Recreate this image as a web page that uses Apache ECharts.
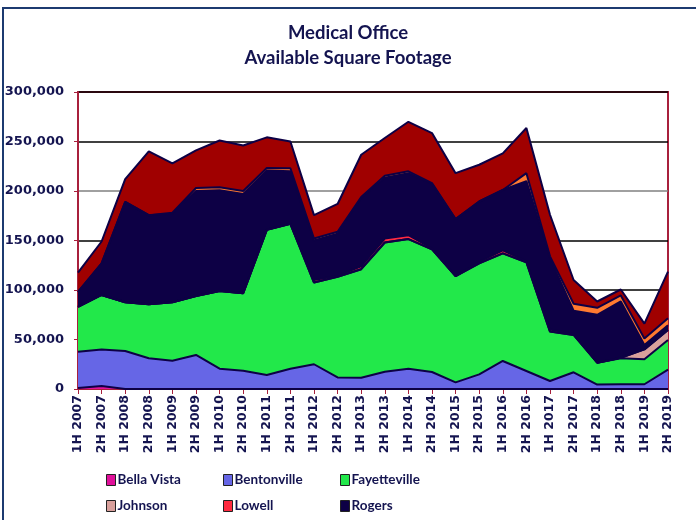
<!DOCTYPE html>
<html>
<head>
	<meta charset="utf-8">
	<title>Medical Office</title>
	<script src="https://cdnjs.cloudflare.com/ajax/libs/echarts/6.0.0/echarts.min.js"></script>
</head>
<body style="margin:0">
	<div id="main" style="width: 696px; height:520px"></div>
	<script type="text/javascript">
		var categories = ["1H 2007","2H 2007","1H 2008","2H 2008","1H 2009","2H 2009","1H 2010","2H 2010","1H 2011","2H 2011","1H 2012","2H 2012","1H 2013","2H 2013","1H 2014","2H 2014","1H 2015","2H 2015","1H 2016","2H 2016","1H 2017","2H 2017","1H 2018","2H 2018","1H 2019","2H 2019"];
		var bellaVista   = [1000,3000,0,0,0,0,0,0,0,0,0,0,0,0,0,0,0,0,0,0,0,0,0,0,0,0];
		var bentonville  = [36700,37000,38400,31000,28600,34400,20500,18500,14200,20500,25000,11700,11400,17500,20500,17200,6700,14800,28300,18200,8100,16900,4500,4700,4800,19500];
		var fayetteville = [45300,55000,49200,54600,59000,59600,78500,78200,146600,146300,82500,101700,109600,130500,130900,123800,107300,112200,108700,109800,49900,37700,22100,26300,25200,30000];
		var johnson      = [0,0,0,0,0,0,0,0,0,0,0,0,0,0,0,0,0,0,0,0,0,0,0,500,10000,10000];
		var lowell       = [0,0,0,0,0,0,0,0,0,0,2500,1000,3000,4000,4000,1000,0,1500,3000,1000,2000,1000,0,0,0,0];
		var rogers       = [15000,32000,101400,90000,89400,106000,101700,100300,59900,53200,40000,42500,69000,61500,62500,65000,57600,60900,61000,81000,72000,23500,48400,57000,4500,5000];
		var siloam       = [0,0,0,0,1000,3000,3000,3000,2500,3000,2000,2000,1000,2000,2000,1000,0,0,0,8000,2000,7000,7000,6000,6500,7000];
		var springdale   = [19600,22000,23000,64400,50000,38000,47300,46000,31000,27000,23600,28000,42600,38000,50000,50500,46400,37100,37000,45600,42000,24000,6400,6000,15000,47000];
		var yTicks = [0,50000,100000,150000,200000,250000,300000];

		var navy = '#0d0045';
		var textNavy = '#141450';
		var myChart = echarts.init(document.getElementById('main'));

		function area(name, data, color){
			return {
				name: name,
				type: 'line',
				stack: 'total',
				z: 5,
				data: data,
				symbol: 'none',
				color: color,
				lineStyle: { color: navy, width: 2 },
				areaStyle: { color: color, opacity: 1 }
			};
		}

		// one legend per entry so the columns line up like the original
		function legendItem(left, top, name){
			return {
				left: left, top: top, padding: 0,
				itemWidth: 9, itemHeight: 11, itemGap: 0,
				icon: 'rect',
				itemStyle: { borderColor: '#222', borderWidth: 1 },
				textStyle: { fontFamily: 'Lato', fontWeight: 'bold', fontSize: 13.5, color: textNavy, padding: [0, 0, 0, -3] },
				data: [name]
			};
		}

		option = {
			animation: false,
			backgroundColor: '#fff',
			title: {
				text: 'Medical Office\nAvailable Square Footage',
				left: 'center', top: 16,
				textStyle: { fontFamily: 'Lato', fontWeight: 'bold', fontSize: 18.5, color: textNavy, lineHeight: 25 }
			},
			graphic: [{
				type: 'rect',
				shape: { x: 3, y: 8, width: 800, height: 600 },
				style: { fill: null, stroke: '#1c3a70', lineWidth: 2 },
				silent: true
			}],
			legend: [
				legendItem(106, 473, 'Bella Vista'),
				legendItem(223, 473, 'Bentonville'),
				legendItem(340, 473, 'Fayetteville'),
				legendItem(106, 499, 'Johnson'),
				legendItem(223, 499, 'Lowell'),
				legendItem(340, 499, 'Rogers')
			],
			grid: {
				left: 78, right: 28, top: 92, bottom: 131,
				show: true, borderColor: '#a8203c', borderWidth: 2
			},
			xAxis: {
				type: 'category',
				data: categories,
				boundaryGap: false,
				z: 0,
				axisLine: { lineStyle: { color: '#a8203c', width: 2 } },
				axisTick: { interval: 0, length: 5, lineStyle: { color: '#a8203c' } },
				axisLabel: {
					interval: 0, rotate: 90, margin: 6,
					fontFamily: 'DejaVu Sans', fontWeight: 'bold', fontSize: 12.5, color: textNavy
				}
			},
			yAxis: {
				type: 'value',
				z: 0,
				min: yTicks[0], max: yTicks[yTicks.length - 1], interval: 50000,
				axisLine: { show: true, lineStyle: { color: '#a8203c', width: 2 } },
				axisTick: { show: true, length: 4, lineStyle: { color: '#a8203c' } },
				axisLabel: {
					fontFamily: 'DejaVu Sans', fontWeight: 'bold', fontSize: 13, color: textNavy, margin: 14,
					formatter: function(v){ return v.toLocaleString('en-US'); }
				},
				splitLine: { lineStyle: { color: ['#000','#000','#000','#000','#808080','#000','#000'], width: 1.5 } }
			},
			series: [
				area('Bella Vista', bellaVista, '#e0109a'),
				area('Bentonville', bentonville, '#6666e6'),
				area('Fayetteville', fayetteville, '#22e84a'),
				area('Johnson', johnson, '#d9a09c'),
				area('Lowell', lowell, '#ff2a40'),
				area('Rogers', rogers, navy),
				area('Siloam Springs', siloam, '#ff7a30'),
				area('Springdale', springdale, '#a00000')
			]
		};
		myChart.setOption(option);
	</script>
</body>
</html>
